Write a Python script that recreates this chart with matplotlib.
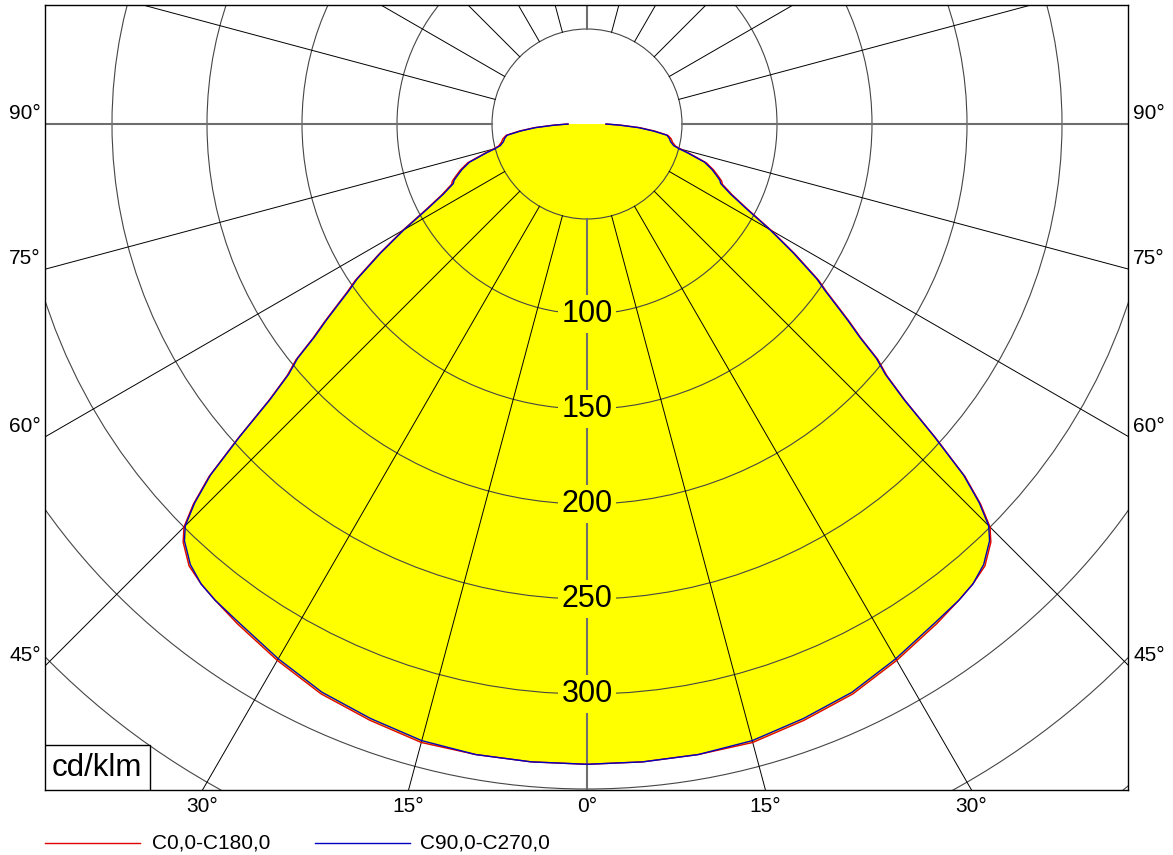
import numpy as np
import matplotlib.pyplot as plt
from matplotlib.patches import Circle, Rectangle
from matplotlib.lines import Line2D

plt.rcParams['font.family'] = ['Liberation Sans', 'DejaVu Sans']

# Luminous intensity distribution (cd/klm), angle from nadir in degrees
angles = [0, 5, 10, 15, 20, 25, 30, 35, 38, 40, 42, 44, 45, 46, 47, 48, 49, 50,
          51, 52, 53, 54, 55, 56, 58, 60, 62, 64, 66, 67, 68, 70, 72, 74, 75, 76,
          78, 80, 82, 84, 86, 88, 90]
c0_c180 = [337, 337, 337, 337, 334, 331, 326, 321, 318, 316, 313, 306, 300, 288,
           272, 247, 222, 206, 197, 183, 173, 163, 154, 147, 129, 112, 96, 85, 78,
           77, 75, 71, 66, 56, 51, 48, 46, 45, 43, 36, 28, 18, 10]
c90_c270 = [337, 337, 337, 336, 333, 330, 325, 320, 318, 316, 312, 305, 299, 287,
            271, 246, 221, 205, 196, 182, 172, 162, 153, 146, 128, 111, 95, 84, 77,
            76, 74, 70, 65, 55, 50, 47, 45, 44, 42.5, 35, 27, 17, 10]

ring_values = [50, 100, 150, 200, 250, 300, 350, 400, 450, 500, 550, 600]
ring_labels = [100, 150, 200, 250, 300]
spoke_angles = list(range(0, 360, 15))
side_labels = [45, 60, 75, 90]
bottom_labels = [-30, -15, 0, 15, 30]

W, H = 1173, 855
scale = 1.9  # px per cd/klm

fig = plt.figure(figsize=(W / 100, H / 100), dpi=100)
ax = fig.add_axes([45 / W, 1 - 790 / H, 1083 / W, 785 / H])
x0, x1 = -542 / scale, 541 / scale
y0, y1 = -666 / scale, 119 / scale
ax.set_xlim(x0, x1)
ax.set_ylim(y0, y1)
ax.set_xticks([])
ax.set_yticks([])
for s in ax.spines.values():
    s.set_color('black')
    s.set_linewidth(1)


def curve(vals):
    th = np.radians(np.array(angles, dtype=float))
    r = np.array(vals, dtype=float)
    # mirror to the other half plane
    th_full = np.concatenate([-th[::-1], th[1:]])
    r_full = np.concatenate([r[::-1], r[1:]])
    return r_full * np.sin(th_full), -r_full * np.cos(th_full)


xa, ya = curve(c0_c180)
xb, yb = curve(c90_c270)
ax.fill(xa, ya, color='#ffff00', zorder=1, lw=0)

# rings
for rv in ring_values:
    ax.add_patch(Circle((0, 0), rv, fill=False, ec='#454545', lw=0.8, zorder=2))

# spokes
for a in spoke_angles:
    t = np.radians(a)
    gray = a % 90 == 0
    ax.plot([50 * np.sin(t), 1000 * np.sin(t)], [-50 * np.cos(t), -1000 * np.cos(t)],
            color='#6e6e6e' if gray else 'black', lw=1.5 if gray else 0.7, zorder=2)

ax.plot(xa, ya, color='#e00000', lw=1, zorder=3)
ax.plot(xb, yb, color='#0000c0', lw=1, zorder=3)

for v in ring_labels:
    ax.text(0, -v, str(v), ha='center', va='center', fontsize=22, zorder=4,
            bbox=dict(boxstyle='square,pad=0.12', fc='#ffff00', ec='none'))

# angle labels on the sides
for a in side_labels:
    yy = -abs(x0) / np.tan(np.radians(a)) if a != 90 else 0
    ax.text(x0 - 4 / scale, yy + 1 / scale, f'{a}°', ha='right', va='bottom',
            fontsize=15, clip_on=False)
    ax.text(x1 + 5 / scale, yy + 1 / scale, f'{a}°', ha='left', va='bottom',
            fontsize=15, clip_on=False)

for a in bottom_labels:
    xx = abs(y0) * np.tan(np.radians(a))
    ax.text(xx, y0 - 7 / scale, f'{abs(a)}°', ha='center', va='top',
            fontsize=15, clip_on=False)

# unit box
ax.add_patch(Rectangle((x0, y0), 105 / scale, 45 / scale, fc='white', ec='black',
                       lw=1, zorder=5))
ax.text(x0 + 52 / scale, y0 + 22 / scale, 'cd/klm', ha='center', va='center',
        fontsize=22.5, zorder=6)

# legend
ly = 1 - 843 / H
fig.add_artist(Line2D([45 / W, 140 / W], [ly, ly], color='#e00000', lw=1))
fig.text(152 / W, ly, 'C0,0-C180,0', ha='left', va='center', fontsize=15)
fig.add_artist(Line2D([315 / W, 410 / W], [ly, ly], color='#0000c0', lw=1))
fig.text(420 / W, ly, 'C90,0-C270,0', ha='left', va='center', fontsize=15)

fig.savefig('out.png', dpi=100, facecolor='white')
